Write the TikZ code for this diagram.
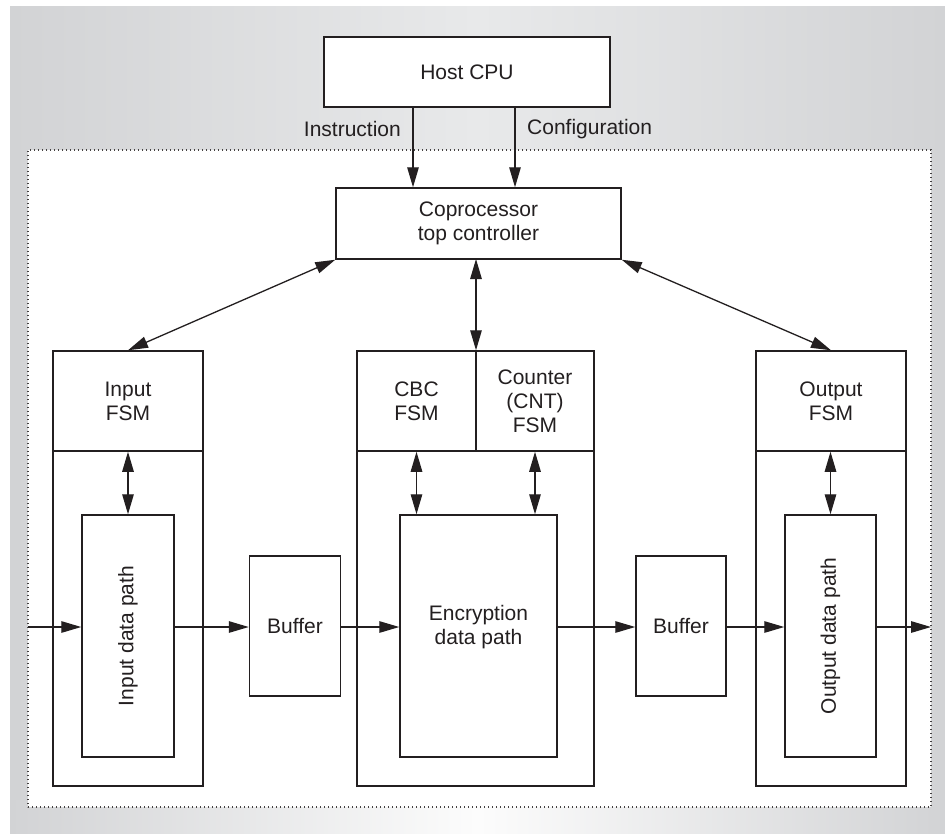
\documentclass[tikz,border=0pt]{standalone}
\usepackage{fontspec}
\setmainfont{Liberation Sans}
\usetikzlibrary{arrows.meta}
\definecolor{ink}{HTML}{231F20}
\definecolor{bgedge}{HTML}{D2D3D5}
\definecolor{bgmid}{HTML}{E8E9EA}
\definecolor{bglow}{HTML}{FCFCFC}
\begin{document}
\begin{tikzpicture}[x=1pt,y=-1pt,
  font=\fontsize{21}{24}\selectfont,
  box/.style={draw=ink, line width=1.5pt, inner sep=0pt, align=center, text=ink, fill=white},
  lbl/.style={text=ink, inner sep=0pt, align=center},
  tip/.style={-{Triangle[length=20pt,width=11.5pt]}},
  link/.style={draw=ink, line width=1.3pt, -{Triangle[length=20pt,width=11.5pt]}},
  dlink/.style={draw=ink, line width=1.3pt,
    {Triangle[length=20pt,width=11.5pt]}-{Triangle[length=20pt,width=11.5pt]}},
  frame/.style={draw=ink!85, line width=1.1pt, dash pattern=on 1.1pt off 2.9pt, fill=white, inner sep=0pt},
]
\useasboundingbox (0,0) rectangle (945,833);

% shaded backdrop
\shade[left color=bgedge, right color=bgedge, middle color=bgmid] (10,6) rectangle (945,833);
\shade[left color=bgedge, right color=bgedge, middle color=bglow] (10,800) rectangle (945,833);

% dotted coprocessor boundary
\node[frame, minimum width=903pt, minimum height=657pt] (copro) at (479.5,478.5) {};

% host and top controller
\node[box, minimum width=286pt, minimum height=70pt] (host) at (467,72) {Host CPU};
\node[box, minimum width=285pt, minimum height=71pt] (ctrl) at (478.5,223.5) {Coprocessor\\top controller};

% input block
\node[box, minimum width=150pt, minimum height=435pt] (inOuter) at (128,568.5) {};
\node[box, minimum width=150pt, minimum height=100pt] (inFSM) at (128,401) {Input\\FSM};
\node[box, minimum width=92pt, minimum height=242pt] (inPath) at (128,636) {};
\node[lbl, rotate=90] (inPathTxt) at (inPath.center) {Input data path};

% encryption block
\node[box, minimum width=237pt, minimum height=435pt] (encOuter) at (475.5,568.5) {};
\node[box, minimum width=119pt, minimum height=100pt] (cbcFSM) at (416.5,401) {CBC\\FSM};
\node[box, minimum width=118pt, minimum height=100pt] (cntFSM) at (535,401) {Counter\\(CNT)\\FSM};
\node[box, minimum width=157pt, minimum height=242pt] (encPath) at (478.5,636) {};
\node[lbl] (encPathTxt) at (478.5,627) {Encryption\\data path};

% output block
\node[box, minimum width=150pt, minimum height=435pt] (outOuter) at (831,568.5) {};
\node[box, minimum width=150pt, minimum height=100pt] (outFSM) at (831,401) {Output\\FSM};
\node[box, minimum width=91pt, minimum height=242pt] (outPath) at (830.5,636) {};
\node[lbl, rotate=90] (outPathTxt) at (outPath.center) {Output data path};

% buffers
\node[box, minimum width=91pt, minimum height=140pt] (bufA) at (295,626) {Buffer};
\node[box, minimum width=90pt, minimum height=140pt] (bufB) at (681,626) {Buffer};

% host links
\node[lbl, anchor=east] (instr) at (401,129) {Instruction};
\node[lbl, anchor=west] (config) at (527,129) {Configuration};
\coordinate (hostA) at (413,107);
\coordinate (hostB) at (515,107);
\draw[link] (hostA) -- (hostA |- ctrl.north);
\draw[link] (hostB) -- (hostB |- ctrl.north);

% controller to the three blocks
\coordinate (ctrlMid) at (476,259);
\draw[dlink] (ctrl.south west) -- (inFSM.north);
\draw[dlink] (ctrlMid) -- (ctrlMid |- encOuter.north);
\draw[dlink] (ctrl.south east) -- (outFSM.north);

% FSM to data path links
\draw[dlink] (inFSM.south) -- (inPath.north);
\draw[dlink] (cbcFSM.south) -- (cbcFSM.south |- encPath.north);
\draw[dlink] (cntFSM.south) -- (cntFSM.south |- encPath.north);
\draw[dlink] (outFSM.south -| outPath.north) -- (outPath.north);

% data stream
\coordinate (dataIn) at (28,627);
\coordinate (dataOut) at (931,627);
\draw[link] (dataIn) -- (dataIn -| inPath.west);
\draw[link] (inPath.east |- dataIn) -- (bufA.west |- dataIn);
\draw[link] (bufA.east |- dataIn) -- (encPath.west |- dataIn);
\draw[link] (encPath.east |- dataIn) -- (bufB.west |- dataIn);
\draw[link] (bufB.east |- dataIn) -- (outPath.west |- dataIn);
\draw[link] (outPath.east |- dataIn) -- (dataOut);
\end{tikzpicture}
\end{document}
